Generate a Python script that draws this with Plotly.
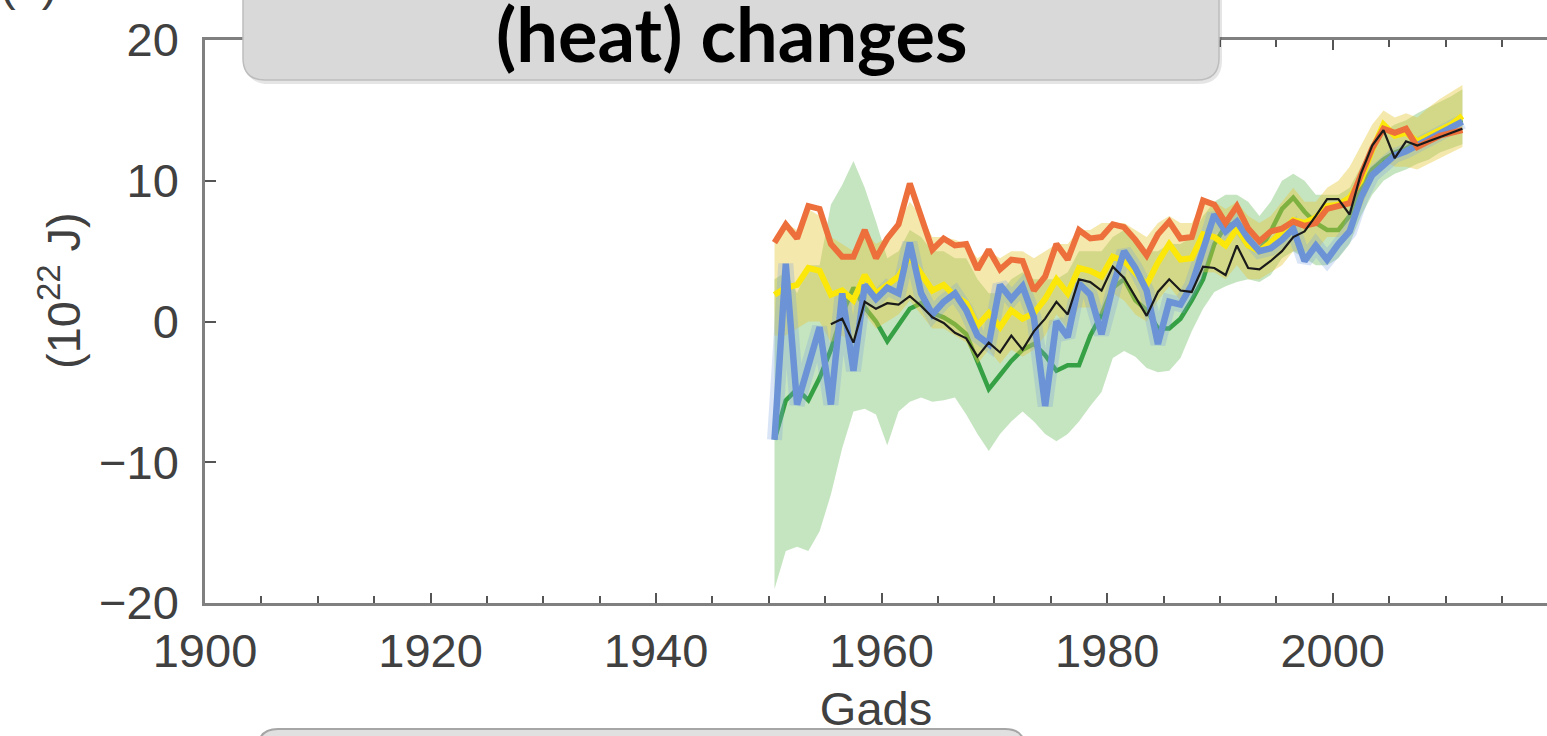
import plotly.graph_objects as go

# ---- data (10^22 J), annual values plotted at mid-year ----
start_year = 1950
end_year = 2011
years = [y + 0.5 for y in range(start_year, end_year + 1)]
black_years = [y + 0.5 for y in range(1955, end_year + 1)]

orange = [5.6, 6.9, 5.9, 8.2, 8.0, 5.5, 4.6, 4.6, 6.5, 4.5,
          5.9, 6.9, 9.8, 7.6, 5.1, 5.9, 5.4, 5.5, 3.7, 5.1,
          3.7, 4.4, 4.3, 2.2, 3.2, 5.5, 4.4, 6.5, 5.9, 6.0,
          6.9, 6.7, 5.8, 4.7, 6.2, 7.1, 5.9, 6.0, 8.6, 8.3,
          7.0, 8.2, 6.6, 5.7, 6.4, 6.6, 7.1, 6.8, 7.0, 8.0,
          8.2, 8.4, 10.4, 12.3, 13.7, 13.4, 13.7, 12.4, 12.8, 13.2,
          13.4, 13.6]

yellow = [1.9, 2.4, 2.6, 3.8, 3.6, 1.9, 2.2, 1.5, 3.3, 2.0,
          2.6, 3.2, 4.6, 3.4, 2.2, 2.6, 1.8, 1.3, -0.3, 0.6,
          -0.4, 0.8, 0.2, 0.6, 1.6, 3.0, 2.0, 3.8, 3.6, 3.2,
          4.6, 4.3, 3.4, 2.6, 4.2, 5.5, 4.4, 4.5, 6.2, 6.0,
          5.4, 6.6, 5.4, 5.0, 5.6, 6.4, 7.2, 7.0, 7.4, 8.2,
          8.3, 8.8, 10.0, 12.2, 14.0, 13.2, 13.4, 12.8, 13.2, 13.6,
          14.0, 14.6]

blue = [-8.4, 4.1, -5.9, -3.0, -0.4, -5.9, 2.0, -3.5, 2.6, 1.6,
        2.4, 2.0, 5.6, 2.0, 0.5, 1.4, 2.0, 0.8, -1.0, -1.6,
        2.6, 1.6, 2.5, 0.3, -6.0, 0.0, -1.1, 2.7, 1.9, -0.9,
        2.5, 5.0, 3.8, 2.2, -1.6, 1.4, 1.2, 2.6, 5.0, 7.6,
        6.4, 7.1, 5.9, 5.0, 5.2, 5.8, 6.6, 4.3, 5.4, 4.4,
        5.5, 6.4, 8.8, 10.4, 11.1, 11.8, 12.1, 12.5, 13.0, 13.4,
        13.8, 14.2]

green = [-8.4, -5.6, -4.8, -5.6, -4.0, -2.0, 0.5, 2.4, 1.0, 0.0,
         -1.4, -0.3, 0.9, 1.3, 0.6, 0.3, -0.2, -0.9, -2.8, -4.8,
         -3.8, -2.8, -2.0, -1.6, -2.4, -3.5, -3.1, -3.1, -1.0, 0.5,
         2.4, 3.0, 1.5, 0.8, -0.5, -0.5, 0.2, 1.5, 3.0, 5.5,
         6.8, 7.0, 6.0, 5.0, 6.4, 8.0, 8.8, 7.8, 7.0, 6.5,
         6.5, 7.5, 9.5, 10.8, 11.5, 12.0, 12.3, 12.8, 13.2, 13.6,
         14.0, 14.3]

black = [-0.2, 0.2, -1.5, 1.4, 0.9,
         1.3, 1.2, 1.8, 1.1, 0.3, -0.1, -0.8, -1.2, -2.5, -1.5,
         -2.2, -1.0, -2.0, -0.7, 0.2, 1.4, 0.5, 3.0, 2.8, 2.2,
         3.9, 3.1, 1.8, 0.4, 2.1, 3.0, 2.2, 2.1, 3.9, 3.8,
         3.3, 5.4, 3.8, 3.7, 4.3, 5.0, 6.0, 6.4, 7.5, 8.7,
         8.7, 7.6, 10.5, 12.5, 13.6, 11.6, 12.8, 12.5, 12.8, 13.1,
         13.4, 13.7]

green_upper = [3.0, 3.5, 2.0, 4.0, 4.0, 8.3, 9.7, 11.4, 9.5, 7.1,
               4.5, 5.0, 6.5, 6.0, 5.0, 5.0, 4.5, 4.5, 3.0, 2.0,
               2.0, 3.0, 3.5, 3.0, 3.0, 3.0, 3.5, 5.0, 5.0, 5.0,
               6.0, 6.5, 6.0, 5.0, 5.0, 5.5, 5.5, 6.0, 7.5, 8.5,
               9.0, 9.0, 8.5, 7.5, 8.5, 10.0, 10.5, 10.0, 9.0, 9.0,
               9.0, 9.5, 11.0, 12.5, 13.5, 14.0, 14.3, 14.8, 15.2, 15.6,
               16.0, 16.5]

green_lower = [-19.0, -16.3, -16.0, -16.3, -14.9, -12.3, -9.0, -6.4, -6.2, -6.6,
               -8.8, -6.4, -5.7, -5.4, -5.7, -5.6, -5.4, -6.6, -8.0, -9.2,
               -8.0, -7.1, -6.4, -7.1, -8.0, -8.5, -8.0, -7.1, -6.0, -5.0,
               -2.6, -2.1, -2.5, -3.3, -3.6, -3.5, -2.6, -0.7, 0.9, 2.1,
               2.5, 2.8, 3.0, 2.8, 3.3, 4.5, 5.0, 4.5, 4.0, 4.0,
               4.5, 5.5, 7.5, 9.0, 10.0, 10.5, 10.8, 11.2, 11.5, 12.0,
               12.3, 12.6]

tan_upper = [6.0, 7.0, 6.5, 8.0, 7.5, 6.0, 5.5, 5.0, 6.5, 5.5,
             6.0, 7.0, 8.5, 7.5, 6.0, 6.0, 5.8, 5.5, 4.5, 5.0,
             4.5, 5.0, 5.0, 4.5, 5.0, 5.5, 5.5, 6.5, 6.5, 7.0,
             7.0, 7.0, 6.5, 6.0, 7.0, 7.5, 7.0, 7.0, 8.5, 8.5,
             8.0, 8.5, 7.5, 7.0, 7.5, 8.5, 9.5, 8.5, 8.5, 9.5,
             10.0, 11.0, 12.5, 14.0, 15.0, 14.5, 14.8, 14.5, 15.2, 15.8,
             16.3, 16.8]

tan_lower = [-1.0, -1.0, -0.5, 0.0, 0.0, -1.5, -1.0, -1.5, 0.5, -0.5,
             0.0, 0.5, 1.5, 0.5, -0.5, -0.5, -1.0, -1.5, -3.0, -2.0,
             -3.0, -2.0, -2.5, -2.0, -1.0, 0.5, -0.5, 1.0, 1.0, 0.5,
             2.0, 1.5, 0.5, 0.0, 1.5, 2.5, 1.5, 2.0, 3.5, 3.5,
             3.0, 4.0, 3.0, 3.0, 3.5, 4.0, 5.0, 5.0, 5.0, 6.0,
             6.0, 6.5, 8.0, 10.0, 11.5, 11.0, 11.0, 10.8, 11.2, 11.6,
             12.0, 12.4]

x_ticks = [1900, 1920, 1940, 1960, 1980, 2000]
y_ticks = [-20, -10, 0, 10, 20]

# ---- page geometry (pixels) ----
W, H = 1547, 736
L, R, T, B = 205, 0, 40, 133


def px(xpix):
    return (xpix - L) / (W - L - R)


def py(ypix):
    return (H - B - ypix) / (H - T - B)


fig = go.Figure()


def band(lower, upper, color):
    fig.add_trace(go.Scatter(x=years, y=lower, mode="lines", line=dict(width=0),
                             hoverinfo="skip", showlegend=False))
    fig.add_trace(go.Scatter(x=years, y=upper, mode="lines", line=dict(width=0),
                             fill="tonexty", fillcolor=color, hoverinfo="skip",
                             showlegend=False))


band(green_lower, green_upper, "rgba(150,205,140,0.55)")
fig.add_trace(go.Scatter(x=years, y=green, mode="lines",
                         line=dict(color="#35a044", width=4.5), showlegend=False))
band(tan_lower, tan_upper, "rgba(232,200,60,0.42)")

fig.add_trace(go.Scatter(x=years, y=blue, mode="lines",
                         line=dict(color="rgba(120,160,222,0.28)", width=15),
                         hoverinfo="skip", showlegend=False))
fig.add_trace(go.Scatter(x=years, y=yellow, mode="lines",
                         line=dict(color="#fbe80a", width=6), showlegend=False))
fig.add_trace(go.Scatter(x=years, y=blue, mode="lines",
                         line=dict(color="#6b93d6", width=6.5), showlegend=False))
fig.add_trace(go.Scatter(x=years, y=orange, mode="lines",
                         line=dict(color="#ec6f3c", width=6), showlegend=False))
fig.add_trace(go.Scatter(x=black_years, y=black, mode="lines",
                         line=dict(color="#1a1a1a", width=2.2), showlegend=False))

axis_font = dict(family="Liberation Sans, Arial, sans-serif", size=47, color="#404040")

fig.update_layout(
    width=W, height=H,
    margin=dict(l=L, r=R, t=T, b=B, pad=0),
    paper_bgcolor="white", plot_bgcolor="white",
    showlegend=False,
    font=axis_font,
    xaxis=dict(
        range=[1900, 2019], tickmode="array", tickvals=x_ticks,
        ticks="inside", ticklen=10, tickwidth=2, tickcolor="#555555",
        showline=True, linecolor="#808080", linewidth=2.5, mirror="ticks",
        showgrid=False, zeroline=False, tickfont=axis_font,
        ticklabelstandoff=5,
        minor=dict(dtick=5, tick0=1900, ticks="inside", ticklen=7,
                   tickwidth=2, tickcolor="#555555", showgrid=False),
        title=dict(text="Gads", font=axis_font, standoff=16),
    ),
    yaxis=dict(
        range=[-20, 20], tickmode="array", tickvals=y_ticks,
        ticks="inside", ticklen=11, tickwidth=2, tickcolor="#555555",
        showline=True, linecolor="#808080", linewidth=2.5,
        showgrid=False, zeroline=False, tickfont=axis_font,
        ticklabelstandoff=14,
    ),
    yaxis2=dict(
        range=[-20, 20], overlaying="y", side="right", tickmode="array",
        tickvals=y_ticks, ticks="inside", ticklen=11, tickwidth=2,
        tickcolor="#555555", showticklabels=False, showline=False,
        showgrid=False, zeroline=False,
    ),
)


# title box with soft shadow
def rounded_top_cut(x0, x1, ytop, ybot, r):
    return (f"M {px(x0)},{py(ytop)} L {px(x0)},{py(ybot - r)} "
            f"Q {px(x0)},{py(ybot)} {px(x0 + r)},{py(ybot)} "
            f"L {px(x1 - r)},{py(ybot)} Q {px(x1)},{py(ybot)} {px(x1)},{py(ybot - r)} "
            f"L {px(x1)},{py(ytop)} Z")


def rounded_bottom_cut(x0, x1, ytop, ybot, r):
    return (f"M {px(x0)},{py(ybot)} L {px(x0)},{py(ytop + r)} "
            f"Q {px(x0)},{py(ytop)} {px(x0 + r)},{py(ytop)} "
            f"L {px(x1 - r)},{py(ytop)} Q {px(x1)},{py(ytop)} {px(x1)},{py(ytop + r)} "
            f"L {px(x1)},{py(ybot)} Z")


fig.add_shape(type="path", xref="paper", yref="paper", layer="above",
              path=rounded_top_cut(245, 1222, -40, 84, 24),
              fillcolor="rgba(0,0,0,0.10)", line=dict(width=0))
fig.add_shape(type="path", xref="paper", yref="paper", layer="above",
              path=rounded_top_cut(243, 1219, -40, 80, 22),
              fillcolor="#d9d9d9", line=dict(color="#bdbdbd", width=1.5))
fig.add_shape(type="path", xref="paper", yref="paper", layer="above",
              path=rounded_bottom_cut(258, 1025, 729, 800, 20),
              fillcolor="#e0e0e0", line=dict(color="#a6a6a6", width=2))

fig.add_annotation(text="(heat) changes", xref="paper", yref="paper",
                   x=px(732), y=py(34), xanchor="center", yanchor="middle",
                   showarrow=False,
                   font=dict(family="Lato, sans-serif", size=74, color="black",
                             weight="bold"))

fig.add_annotation(text="(10<sup>22</sup> J)", xref="paper", yref="paper",
                   x=px(60), y=py(291), xanchor="center", yanchor="middle",
                   textangle=-90, showarrow=False, font=axis_font)

fig.add_annotation(text="(a)", xref="paper", yref="paper",
                   x=px(28), y=py(-16), xanchor="center", yanchor="middle",
                   showarrow=False, font=axis_font)

fig.write_html("out.html")
